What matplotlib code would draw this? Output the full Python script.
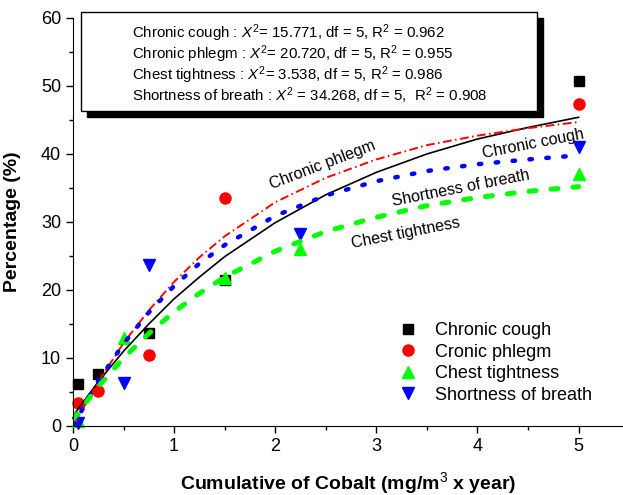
import matplotlib
matplotlib.use('Agg')
import matplotlib.pyplot as plt
from matplotlib.patches import Rectangle
from matplotlib.ticker import MultipleLocator

plt.rcParams['font.family'] = ['Liberation Sans', 'DejaVu Sans']
plt.rcParams['mathtext.fontset'] = 'custom'
plt.rcParams['mathtext.rm'] = 'Liberation Sans'
plt.rcParams['mathtext.it'] = 'Liberation Sans:italic'

# observed prevalence (%)
cough_x = [0.05, 0.25, 0.75, 1.5, 5]
cough_y = [6.2, 7.6, 13.7, 21.4, 50.7]
phlegm_x = [0.05, 0.25, 0.75, 1.5, 5]
phlegm_y = [3.4, 5.1, 10.4, 33.5, 47.4]
chest_x = [0.05, 0.5, 1.5, 2.25, 5]
chest_y = [0.8, 12.9, 21.8, 26.1, 37.0]
breath_x = [0.05, 0.5, 0.75, 2.25, 5]
breath_y = [0.5, 6.3, 23.7, 28.2, 41.0]

# fitted curves
fit_x = [0, 0.25, 0.5, 0.75, 1, 1.25, 1.5, 2, 2.5, 3, 3.5, 4, 4.5, 5]
cough_fit = [1.5, 6.5, 11.0, 15.0, 18.7, 21.9, 24.9, 29.9, 34.0, 37.3, 40.0, 42.2, 43.9, 45.4]
phlegm_fit = [0.0, 6.5, 12.2, 17.0, 21.2, 24.8, 27.9, 32.9, 36.5, 39.2, 41.3, 42.7, 43.8, 44.7]
chest_fit = [1.0, 5.8, 10.0, 13.6, 16.8, 19.5, 21.9, 25.7, 28.6, 30.7, 32.4, 33.6, 34.5, 35.2]
breath_fit = [0.0, 6.6, 12.1, 16.7, 20.6, 23.9, 26.6, 30.9, 33.9, 36.0, 37.5, 38.5, 39.2, 39.8]

stats_lines = [
    r'Chronic cough : $X^{2}$= 15.771, df = 5, R$^{2}$ = 0.962',
    r'Chronic phlegm : $X^{2}$= 20.720, df = 5, R$^{2}$ = 0.955',
    r'Chest tightness : $X^{2}$= 3.538, df = 5, R$^{2}$ = 0.986',
    r'Shortness of breath : $X^{2}$ = 34.268, df = 5,  R$^{2}$ = 0.908',
]

GREEN = '#00ff00'

fig = plt.figure(figsize=(6.23, 4.95), dpi=100)
ax = fig.add_axes([73 / 623, 1 - 426 / 495, 550 / 623, 408 / 495])

ax.plot(cough_x, cough_y, 's', color='black', ms=7, clip_on=False, label='Chronic cough')
ax.plot(phlegm_x, phlegm_y, 'o', color='red', ms=8, clip_on=False, label='Cronic phlegm')
ax.plot(chest_x, chest_y, '^', color=GREEN, ms=8.5, clip_on=False, label='Chest tightness')
ax.plot(breath_x, breath_y, 'v', color='blue', ms=8.5, clip_on=False, label='Shortness of breath')

ax.plot(fit_x, cough_fit, '-', color='black', lw=1.2)
ax.plot(fit_x, phlegm_fit, color='red', lw=1.4, linestyle=(0, (4.5, 1.8, 0.8, 1.8)))
ax.plot(fit_x, breath_fit, color='blue', lw=3.2, linestyle=(0, (0.56, 3.25)),
        dash_capstyle='round')
ax.plot(fit_x, chest_fit, color=GREEN, lw=3.6, linestyle=(0, (1.4, 3.0)),
        dash_capstyle='round')

ax.set_xlim(0, 5.44)
ax.set_ylim(0, 60)
ax.xaxis.set_major_locator(MultipleLocator(1))
ax.xaxis.set_minor_locator(MultipleLocator(0.5))
ax.yaxis.set_major_locator(MultipleLocator(10))
ax.yaxis.set_minor_locator(MultipleLocator(5))
ax.tick_params(which='major', direction='out', length=5, width=1, labelsize=13)
ax.tick_params(which='minor', direction='out', length=3, width=1)
for side in ['top', 'right']:
    ax.spines[side].set_visible(False)

ax.set_xlabel('Cumulative of Cobalt (mg/m$^{3}$ x year)', fontsize=14, fontweight='bold',
              labelpad=11)
ax.set_ylabel('Percentage (%)', fontsize=14, fontweight='bold')
ax.yaxis.set_label_coords(-0.095, 0.5)

# curve labels
ax.text(2.47, 38.4, 'Chronic phlegm', fontsize=11.5, rotation=21, ha='center', va='center',
        rotation_mode='anchor')
ax.text(4.55, 41.5, 'Chronic cough', fontsize=11.5, rotation=11, ha='center', va='center',
        rotation_mode='anchor')
ax.text(3.84, 35.0, 'Shortness of breath', fontsize=11.5, rotation=11, ha='center',
        va='center', rotation_mode='anchor')
ax.text(3.29, 28.4, 'Chest tightness', fontsize=11.5, rotation=11, ha='center', va='center',
        rotation_mode='anchor')

ax.legend(loc='upper left', bbox_to_anchor=(399 / 623, 1 - 322 / 495),
          bbox_transform=fig.transFigure, frameon=False, fontsize=13, numpoints=1,
          handlelength=1, handletextpad=1.0, labelspacing=0.25, borderpad=0,
          borderaxespad=0)

# statistics box with drop shadow
bx0, bx1 = 81 / 623, 537 / 623
by0, by1 = 1 - 111 / 495, 1 - 12 / 495
fig.patches.append(Rectangle((bx0 + 6 / 623, by0 - 6 / 495), bx1 - bx0, by1 - by0,
                             transform=fig.transFigure, facecolor='black', edgecolor='black'))
fig.patches.append(Rectangle((bx0, by0), bx1 - bx0, by1 - by0, transform=fig.transFigure,
                             facecolor='white', edgecolor='black', lw=1))
for i, line in enumerate(stats_lines):
    fig.text(132 / 623, 1 - (33 + 21 * i) / 495, line, fontsize=10.8,
             ha='left', va='center')

fig.savefig('out.png', dpi=100)
